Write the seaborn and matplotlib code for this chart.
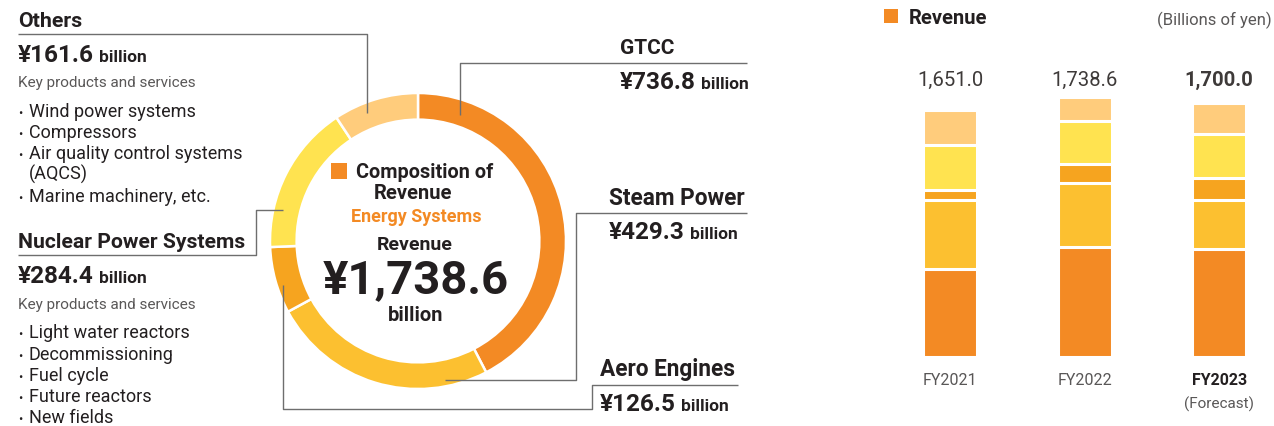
import matplotlib
matplotlib.use("Agg")
import matplotlib.pyplot as plt
from matplotlib.patches import Rectangle
import seaborn as sns
import pandas as pd

# Donnees : segments du chiffre d'affaires Energy Systems (milliards de yens)
segments = ["GTCC", "Steam Power", "Aero Engines", "Nuclear Power Systems", "Others"]
seg_colors = ["#F38A24", "#FCC030", "#F6A41F", "#FFE350", "#FFCC7C"]
fy2022 = [736.8, 429.3, 126.5, 284.4, 161.6]

years = ["FY2021", "FY2022", "FY2023"]
fy2021 = [590.0, 461.0, 66.0, 303.0, 231.0]
fy2023 = [720.0, 329.0, 150.0, 291.0, 210.0]
total_labels = ["1,651.0", "1,738.6", "1,700.0"]

others_items = ["Wind power systems", "Compressors", "Air quality control systems", "(AQCS)", "Marine machinery, etc."]
nuclear_items = ["Light water reactors", "Decommissioning", "Fuel cycle", "Future reactors", "New fields"]

DARK = "#231F20"
GRAY = "#595757"
LINE = "#6E6E6E"

sns.set_theme(style="white")
plt.rcParams["font.family"] = ["Roboto", "DejaVu Sans"]

W, H = 1274, 426
fig = plt.figure(figsize=(W / 100, H / 100), dpi=100)

# Graphique 1 : donut
cx, cy, r = 418, 241, 148
axp = fig.add_axes([(cx - r) / W, (H - cy - r) / H, 2 * r / W, 2 * r / H])
axp.pie(fy2022, colors=seg_colors, startangle=90, counterclock=False,
        wedgeprops=dict(width=0.18, edgecolor="white", linewidth=1.8))
axp.set_xlim(-1, 1)
axp.set_ylim(-1, 1)
axp.axis("off")

# Graphique 2 : barres empilees
rows = []
for yr, vals in zip(years, [fy2021, fy2022, fy2023]):
    for seg, v in zip(segments, vals):
        rows.append({"year": yr, "segment": seg, "value": v})
df = pd.DataFrame(rows)
df["cum"] = df.groupby("year")["value"].cumsum()

bar_bottom, px_per_unit, ymax = 357.3, 0.1498, 1800
ax_h = ymax * px_per_unit
axb = fig.add_axes([883 / W, (H - bar_bottom) / H, 390 / W, ax_h / H])
for k in range(len(segments) - 1, -1, -1):
    sub = df[df["segment"] == segments[k]]
    sns.barplot(data=sub, x="year", y="cum", order=years, color=seg_colors[k],
                saturation=1, width=0.40, edgecolor="white", linewidth=2.2, ax=axb)
axb.set_xlim(-0.5, 2.4)
axb.set_ylim(0, ymax)
axb.set_xlabel("")
axb.set_ylabel("")
axb.set_yticks([])
sns.despine(ax=axb, left=True, bottom=True)
axb.tick_params(axis="x", length=0, pad=11, labelsize=11.5, labelcolor=GRAY)
for i, lab in enumerate(axb.get_xticklabels()):
    if i == 2:
        lab.set_fontweight("bold")
        lab.set_color(DARK)
for i, lab in enumerate(total_labels):
    axb.text(i, 1.006, lab, transform=axb.get_xaxis_transform(), ha="center", va="baseline",
             fontsize=14.6, color="#3E3A39", fontweight="bold" if i == 2 else "normal")
axb.text(2, -0.189, "(Forecast)", transform=axb.get_xaxis_transform(), ha="center",
         va="baseline", fontsize=11, color=GRAY)

# Calque texte en pixels
ov = fig.add_axes([0, 0, 1, 1])
ov.set_xlim(0, W)
ov.set_ylim(H, 0)
ov.axis("off")
ov.patch.set_alpha(0)
renderer = fig.canvas.get_renderer()


def amount(x, y, big, size=17.5):
    t = ov.text(x, y, big, fontsize=size, fontweight="bold", color=DARK, va="baseline")
    w = t.get_window_extent(renderer).width
    ov.text(x + w + 5, y, "billion", fontsize=12.5, fontweight="bold", color=DARK, va="baseline")


def leader(pts):
    ov.plot([p[0] for p in pts], [p[1] for p in pts], color=LINE, lw=1.0, solid_capstyle="butt")


# Others
ov.text(18, 26.7, "Others", fontsize=15.4, fontweight="bold", color=DARK, va="baseline")
amount(18, 62.3, "¥161.6")
ov.text(18, 87.3, "Key products and services", fontsize=11, color=GRAY, va="baseline")
for yb, item in zip([117.3, 138.3, 159.3, 180, 201.7], others_items):
    if not item.startswith("("):
        ov.text(18, yb, "•", fontsize=9, color=DARK, va="baseline")
    ov.text(29, yb, item, fontsize=13, color=DARK, va="baseline")
leader([(18, 34), (367, 34), (367, 113)])

# Nuclear Power Systems
ov.text(18, 247.7, "Nuclear Power Systems", fontsize=15.2, fontweight="bold", color=DARK, va="baseline")
amount(18, 283.3, "¥284.4")
ov.text(18, 309.3, "Key products and services", fontsize=11, color=GRAY, va="baseline")
for yb, item in zip([338.3, 360, 381.3, 401.7, 423.3], nuclear_items):
    ov.text(18, yb, "•", fontsize=9, color=DARK, va="baseline")
    ov.text(29, yb, item, fontsize=13, color=DARK, va="baseline")
leader([(18, 255), (256, 255), (256, 210), (283, 210)])

# GTCC / Steam Power / Aero Engines
ov.text(620, 54.3, "GTCC", fontsize=15, fontweight="bold", color=DARK, va="baseline")
amount(620, 89, "¥736.8")
leader([(747, 63), (460, 63), (460, 115)])
ov.text(609, 205, "Steam Power", fontsize=16.3, fontweight="bold", color=DARK, va="baseline")
amount(609, 239, "¥429.3")
leader([(747, 213), (576, 213), (576, 380), (445, 380)])
ov.text(600, 375.7, "Aero Engines", fontsize=16.3, fontweight="bold", color=DARK, va="baseline")
amount(600, 411, "¥126.5")
leader([(738, 385), (592, 385), (592, 409), (283, 409), (283, 285)])

# Centre du donut
ov.add_patch(Rectangle((331, 163), 16, 16, color=seg_colors[0], lw=0))
ov.text(356, 177.7, "Composition of", fontsize=14.3, fontweight="bold", color=DARK, va="baseline")
ov.text(413, 199.3, "Revenue", fontsize=14.5, fontweight="bold", color=DARK, va="baseline", ha="center")
ov.text(416, 222, "Energy Systems", fontsize=13, fontweight="bold", color=seg_colors[0], va="baseline", ha="center")
ov.text(415, 250, "Revenue", fontsize=14, fontweight="bold", color=DARK, va="baseline", ha="center")
ov.text(416, 293, "¥1,738.6", fontsize=34, fontweight="bold", color=DARK, va="baseline", ha="center")
ov.text(416, 320.7, "billion", fontsize=14.5, fontweight="bold", color=DARK, va="baseline", ha="center")

# Legende barres
ov.add_patch(Rectangle((884, 9), 14, 14, color=seg_colors[0], lw=0))
ov.text(909, 23.5, "Revenue", fontsize=14.5, fontweight="bold", color=DARK, va="baseline")
ov.text(1272, 25, "(Billions of yen)", fontsize=12, color=GRAY, va="baseline", ha="right")

fig.savefig("out.png", dpi=100)
plt.close(fig)
